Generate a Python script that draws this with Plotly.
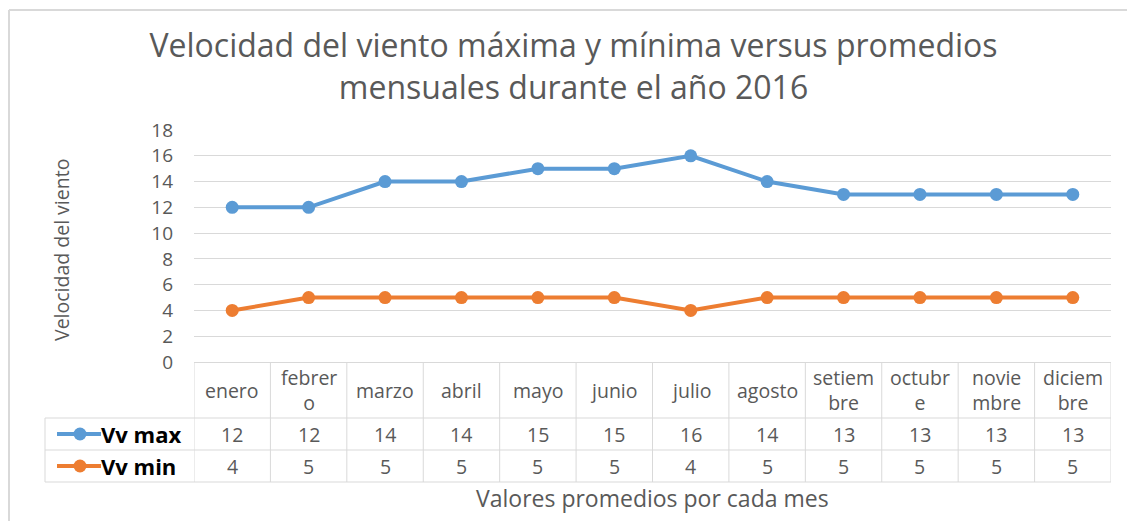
import plotly.graph_objects as go

months = ["enero", "febrero", "marzo", "abril", "mayo", "junio", "julio",
          "agosto", "setiembre", "octubre", "noviembre", "diciembre"]
month_labels = ["enero", "febrer<br>o", "marzo", "abril", "mayo", "junio", "julio",
                "agosto", "setiem<br>bre", "octubr<br>e", "novie<br>mbre", "diciem<br>bre"]
vv_max = [12, 12, 14, 14, 15, 15, 16, 14, 13, 13, 13, 13]
vv_min = [4, 5, 5, 5, 5, 5, 4, 5, 5, 5, 5, 5]
series = [("Vv max", vv_max, "#5B9BD5"), ("Vv min", vv_min, "#ED7D31")]
y_ticks = [0, 2, 4, 6, 8, 10, 12, 14, 16, 18]

# the page places the figure 8px from the top-left corner
OFF = 8
W, H = 1135 - OFF, 521 - OFF
L = 194 - OFF
T = 130 - OFF
R = W - (1111 - OFF)
B = H - (362 - OFF)
pw, ph = W - L - R, H - T - B

def px(xp):  # reference x pixel -> paper
    return (xp - OFF - L) / pw

def py(yp):  # reference y pixel -> paper
    return (H - B - (yp - OFF)) / ph

FONT = "Open Sans"
GRAY = "#595959"
LINE = "#d9d9d9"

fig = go.Figure()
for name, vals, col in series:
    fig.add_trace(go.Scatter(
        x=list(range(len(months))), y=vals, mode="lines+markers", name=name,
        line=dict(color=col, width=4), marker=dict(color=col, size=13),
        showlegend=False, cliponaxis=False))

shapes = []
annotations = []

row_y = [362, 418, 450, 482]
for i in range(len(months) + 1):
    shapes.append(dict(type="line", xref="x", yref="paper", x0=i - 0.5, x1=i - 0.5,
                       y0=py(row_y[0]), y1=py(row_y[3]), line=dict(color=LINE, width=1)))
for yy in row_y[1:]:
    shapes.append(dict(type="line", xref="paper", yref="paper", x0=px(45), x1=1,
                       y0=py(yy), y1=py(yy), line=dict(color=LINE, width=1)))
shapes.append(dict(type="line", xref="paper", yref="paper", x0=px(45), x1=px(45),
                   y0=py(row_y[1]), y1=py(row_y[3]), line=dict(color=LINE, width=1)))
# chart border (top & left)
shapes.append(dict(type="line", xref="paper", yref="paper", x0=px(9), x1=px(1140),
                   y0=py(10), y1=py(10), line=dict(color=LINE, width=2)))
shapes.append(dict(type="line", xref="paper", yref="paper", x0=px(9), x1=px(9),
                   y0=py(10), y1=py(530), line=dict(color=LINE, width=2)))

for i, lab in enumerate(month_labels):
    annotations.append(dict(x=i, y=py(390), xref="x", yref="paper", text=lab,
                            showarrow=False, xanchor="center", yanchor="middle",
                            font=dict(family=FONT, size=19.5, color=GRAY)))
for r, (name, vals, col) in enumerate(series):
    yc = py((row_y[r + 1] + row_y[r + 2]) / 2)
    for i, v in enumerate(vals):
        annotations.append(dict(x=i, y=yc, xref="x", yref="paper", text=str(v),
                                showarrow=False, xanchor="center", yanchor="middle",
                                font=dict(family=FONT, size=19.5, color=GRAY)))
    shapes.append(dict(type="line", xref="paper", yref="paper", x0=px(57), x1=px(101),
                       y0=yc, y1=yc, line=dict(color=col, width=4)))
    shapes.append(dict(type="circle", xref="paper", yref="paper", xsizemode="pixel",
                       ysizemode="pixel", xanchor=px(80), yanchor=yc,
                       x0=-6.5, x1=6.5, y0=-6.5, y1=6.5, fillcolor=col, line=dict(width=0)))
    annotations.append(dict(x=px(99), y=yc, xref="paper", yref="paper",
                            text="<b>%s</b>" % name, showarrow=False, xanchor="left",
                            yanchor="middle",
                            font=dict(family=FONT, size=22, color="#000000")))

annotations.append(dict(x=px(61), y=py(250), xref="paper", yref="paper",
                        text="Velocidad del viento", textangle=-90, showarrow=False,
                        xanchor="center", yanchor="middle",
                        font=dict(family=FONT, size=19.5, color=GRAY)))
annotations.append(dict(x=px(652), y=py(498), xref="paper", yref="paper",
                        text="Valores promedios por cada mes", showarrow=False,
                        xanchor="center", yanchor="middle",
                        font=dict(family=FONT, size=23, color=GRAY)))

fig.update_layout(
    width=W, height=H,
    margin=dict(l=L, r=R, t=T, b=B),
    paper_bgcolor="white", plot_bgcolor="white",
    title=dict(text="Velocidad del viento máxima y mínima versus promedios<br>mensuales durante el año 2016",
               x=(573.5 - OFF) / W, xanchor="center", y=1 - (57 - OFF) / H,
               yanchor="middle",
               font=dict(family=FONT, size=32, color=GRAY)),
    xaxis=dict(range=[-0.5, 11.5], showticklabels=False, showgrid=False,
               zeroline=False, showline=True, linecolor=LINE, linewidth=1,
               ticks="", fixedrange=True),
    yaxis=dict(range=[0, 18], tickvals=y_ticks, showgrid=True, gridcolor=LINE,
               gridwidth=1, zeroline=False, showline=False, ticks="",
               ticklabelstandoff=20,
               tickfont=dict(family=FONT, size=19, color=GRAY)),
    shapes=shapes, annotations=annotations,
)

fig.write_html("out.html")
